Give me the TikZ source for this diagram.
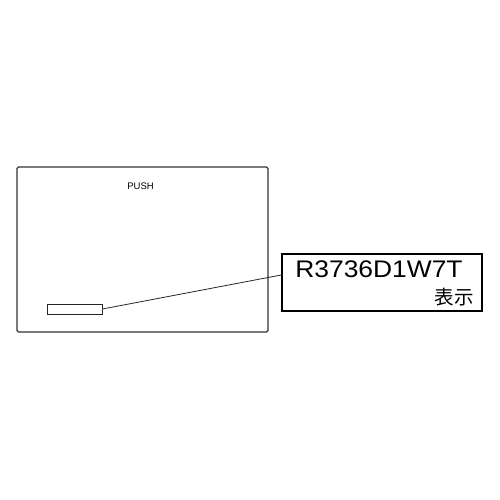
\documentclass[tikz,border=0pt]{standalone}
\usepackage{graphicx}
\usepackage{fontspec}
\setmainfont{Liberation Sans}
\newfontfamily\cjk{Noto Sans CJK JP}
\begin{document}
\begin{tikzpicture}[x=1pt,y=-1pt,
  panel/.style={draw=black!80,line width=1.1pt,rounded corners=1.5pt},
  window/.style={draw=black!85,line width=0.9pt},
  labelbox/.style={draw=black,line width=1.5pt},
  leader/.style={draw=black!85,line width=0.8pt}]
\useasboundingbox (0,0) rectangle (500,500);
\draw[panel] (17,167) rectangle (268,332);
\node[window,minimum width=55pt,minimum height=10pt,inner sep=0pt] (win) at (74.5,309) {};
\node[font=\fontsize{9.5}{10}\selectfont,inner sep=0pt] (push) at (140.5,186) {PUSH};
\node[labelbox,minimum width=200pt,minimum height=57pt,inner sep=0pt] (lbl) at (382,282.5) {};
\node[font=\fontsize{24}{25}\selectfont,inner sep=0pt,anchor=base] (code) at (379,277.5) {\scalebox{1.1}[1]{R3736D1W7T}};
\node[font=\cjk\fontsize{19.5}{20}\selectfont,inner sep=0pt,anchor=east] (hyoji) at (474,297) {表示};
\draw[leader] (win.east) -- (lbl.west |- 0,275);
\end{tikzpicture}
\end{document}
